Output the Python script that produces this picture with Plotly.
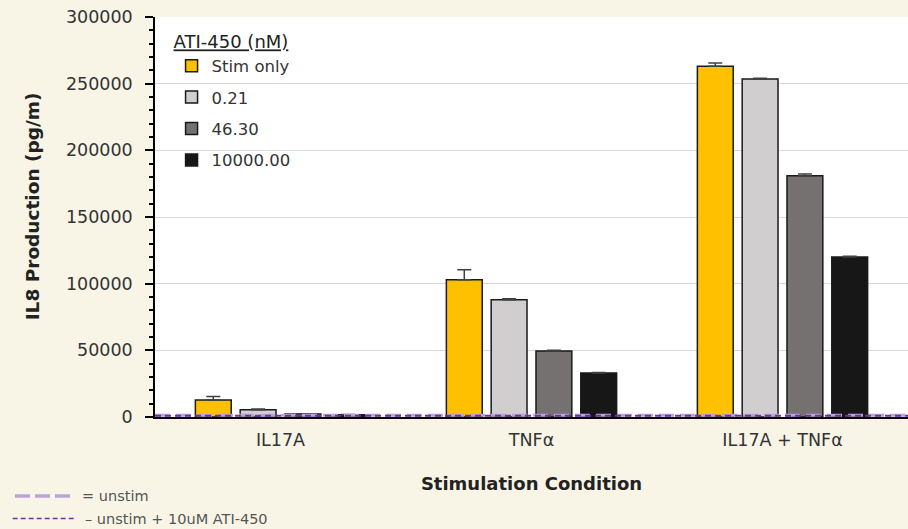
import plotly.graph_objects as go

# --- dados ---
categorias = ["IL17A", "TNFα", "IL17A + TNFα"]
series = ["Stim only", "0.21", "46.30", "10000.00"]
valores = {
    "Stim only": [12800, 103000, 263000],
    "0.21": [5500, 88000, 253500],
    "46.30": [2200, 49500, 181000],
    "10000.00": [1600, 33000, 120000],
}
erros = {
    "Stim only": [2500, 7500, 2500],
    "0.21": [500, 600, 500],
    "46.30": [300, 500, 1200],
    "10000.00": [200, 400, 600],
}
cores = {
    "Stim only": "#FFC000",
    "0.21": "#D0CECE",
    "46.30": "#767171",
    "10000.00": "#171717",
}
unstim = 1300
unstim_ati = 1000

fundo = "#F8F5E7"
fonte = "'DejaVu Sans', sans-serif"
pos = list(range(len(categorias)))

fig = go.Figure()

for s in series:
    fig.add_trace(go.Bar(
        x=pos,
        y=valores[s],
        name=s,
        marker=dict(color=cores[s], line=dict(color="#1a1a1a", width=1.5)),
        # barra de erro só para cima, como no Excel
        error_y=dict(type="data", symmetric=False, array=erros[s], arrayminus=[0] * len(pos),
                     color="#404040", thickness=1.5, width=7),
        legendgroup=s,
    ))

# linhas de referência (unstim) - sem legenda, a chave fica embaixo à esquerda
fig.add_trace(go.Scatter(
    x=[-0.5, 2.5], y=[unstim, unstim], mode="lines",
    line=dict(color="#B9A3D9", width=3, dash="15px,6px"),
    showlegend=False, hoverinfo="skip",
))
fig.add_trace(go.Scatter(
    x=[-0.5, 2.5], y=[unstim_ati, unstim_ati], mode="lines",
    line=dict(color="#7030A0", width=2, dash="6px,4px"),
    showlegend=False, hoverinfo="skip",
))

# chave das linhas tracejadas (fora da área do gráfico)
chave = [
    ("= unstim", "#B9A3D9", 3.5, "15px,5px", -0.1975, -0.186, -0.110),
    ("– unstim + 10uM ATI-450", "#7030A0", 1.5, "5px,3px", -0.254, -0.189, -0.106),
]
for texto, cor, larg, estilo, yy, xini, xfim in chave:
    fig.add_shape(type="line", xref="paper", yref="paper",
                  x0=xini, x1=xfim, y0=yy, y1=yy,
                  line=dict(color=cor, width=larg, dash=estilo))
    fig.add_annotation(xref="paper", yref="paper", x=xfim + 0.01, y=yy,
                       text=texto, showarrow=False, xanchor="left", yanchor="middle",
                       font=dict(size=14.5, color="#555"))

# título do eixo y (um pouco acima do centro, como no original)
fig.add_annotation(xref="paper", yref="paper", x=-0.163, y=0.5275,
                   text="<b>IL8 Production (pg/m)</b>", textangle=-90, showarrow=False,
                   xanchor="center", yanchor="middle",
                   font=dict(size=18.5, color="#222"))

fig.update_layout(
    width=908, height=529,
    paper_bgcolor=fundo,
    plot_bgcolor="white",
    font=dict(family=fonte, color="#333333"),
    margin=dict(l=155, r=0, t=17, b=112),
    barmode="group",
    bargap=0.286,
    bargroupgap=0.2,
    showlegend=True,
    legend=dict(
        title=dict(text="<u>ATI-450 (nM)</u>", font=dict(size=18, color="#222")),
        x=0.022, y=0.98, xanchor="left", yanchor="top",
        bgcolor="rgba(0,0,0,0)",
        font=dict(size=16.5, color="#333"),
        tracegroupgap=7,
        itemwidth=30,
        itemclick=False,
    ),
    xaxis=dict(
        range=[-0.5, 2.5],
        tickvals=pos,
        ticktext=categorias,
        showgrid=False,
        zeroline=False,
        showline=True, linecolor="black", linewidth=1.5,
        ticks="",
        ticklabelstandoff=6,
        tickfont=dict(size=17.5, color="#333"),
        title=dict(text="<b>Stimulation Condition</b>", font=dict(size=18, color="#222"), standoff=29),
    ),
    yaxis=dict(
        range=[0, 300000],
        dtick=50000,
        tickformat="d",
        showgrid=True, gridcolor="#D9D9D9", gridwidth=1,
        zeroline=False,
        showline=True, linecolor="black", linewidth=1.5,
        ticks="outside", ticklen=8, tickcolor="black", tickwidth=1.5,
        ticklabelstandoff=9,
        minor=dict(dtick=10000, ticks="outside", ticklen=4, tickcolor="black", showgrid=False),
        tickfont=dict(size=17.5, color="#333"),
    ),
)

fig.write_html(
    "out.html",
    config={"displayModeBar": False},
    post_script="document.body.style.margin='0';document.body.style.background='%s';" % fundo,
)
